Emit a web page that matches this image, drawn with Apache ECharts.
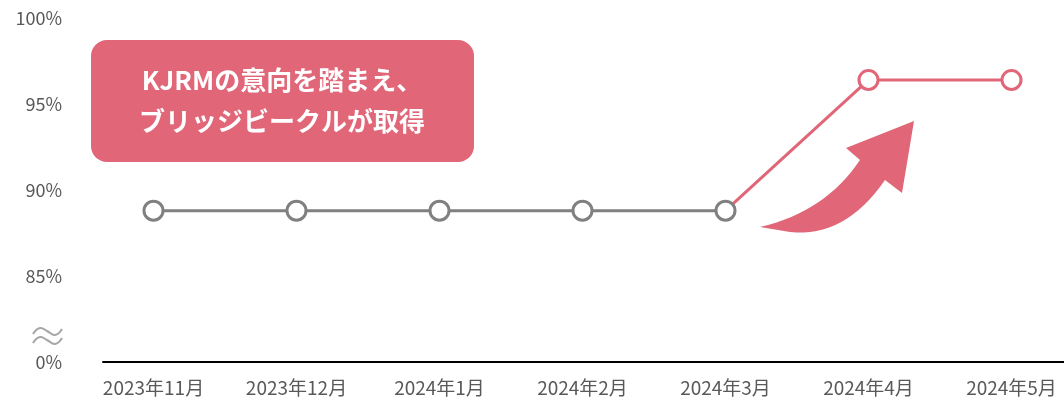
<!DOCTYPE html>
<html>
<head>
<meta charset="utf-8">
<script src="https://cdn.jsdelivr.net/npm/echarts@6/dist/echarts.min.js"></script>
<style>
  html, body { margin: 0; padding: 0; background: #fff; }
  #main { width: 1064px; height: 400px; }
</style>
</head>
<body>
<div id="main"></div>
<script>
// data
var months = ['2023年11月', '2023年12月', '2024年1月', '2024年2月', '2024年3月', '2024年4月', '2024年5月'];
var before = [88.8, 88.8, 88.8, 88.8, 88.8, null, null];
var after = [null, null, null, null, 88.8, 96.4, 96.4];
var yTicks = [80, 85, 90, 95, 100]; // 80 is shown as 0% (broken axis)

var FONT = "'Noto Sans CJK JP', 'Noto Sans', sans-serif";
var PINK = '#E06678';
var GREY = '#808080';

var chartDom = document.getElementById('main');
var myChart = echarts.init(chartDom);

var pinkData = after.map(function (v, i) {
    // hand-over point is drawn by the grey series
    if (i === 4) return { value: v, symbol: 'none' };
    return v;
});

// points along a quadratic curve, for the decorative arrow
function quad(p0, c, p1, n) {
    var pts = [];
    for (var i = 0; i <= n; i++) {
        var t = i / n, u = 1 - t;
        pts.push([u * u * p0[0] + 2 * u * t * c[0] + t * t * p1[0],
                  u * u * p0[1] + 2 * u * t * c[1] + t * t * p1[1]]);
    }
    return pts;
}
var arrowPts = quad([760, 227], [825, 212], [860, 160], 16)
    .concat([[846, 148], [914, 121], [902, 193]])
    .concat(quad([885, 180], [845, 238], [790, 232], 16));

// the little "≈" break mark on the y axis
function wave(dy) {
    return [[33, 334 + dy], [40, 328 + dy], [47, 331 + dy], [55, 335 + dy], [62, 329 + dy]];
}

var option = {
    animation: false,
    textStyle: { fontFamily: FONT },
    grid: [
        { left: 82, width: 1001, top: 18, bottom: 38, outerBoundsMode: 'none' },
        { left: 103, right: 0, top: 18, bottom: 38, outerBoundsMode: 'none' }
    ],
    xAxis: [{
        type: 'category',
        gridIndex: 0,
        data: months,
        axisLine: { show: false },
        axisTick: { show: false },
        axisLabel: { color: '#595959', fontSize: 19, margin: 16, fontFamily: FONT, interval: 0 }
    }, {
        type: 'value',
        gridIndex: 1,
        axisLine: { show: true, lineStyle: { color: '#000', width: 2 } },
        axisTick: { show: false },
        axisLabel: { show: false },
        splitLine: { show: false }
    }],
    yAxis: [{
        type: 'value',
        gridIndex: 0,
        min: yTicks[0],
        max: yTicks[yTicks.length - 1],
        interval: 5,
        axisLine: { show: false },
        axisTick: { show: false },
        splitLine: { show: false },
        axisLabel: {
            color: '#595959',
            fontSize: 18,
            margin: 20,
            fontFamily: FONT,
            formatter: function (v) { return v === yTicks[0] ? '0%' : v + '%'; }
        }
    }, {
        type: 'value',
        gridIndex: 1,
        show: false
    }],
    series: [{
        type: 'line',
        data: pinkData,
        xAxisIndex: 0,
        yAxisIndex: 0,
        symbol: 'circle',
        symbolSize: 19,
        lineStyle: { color: PINK, width: 3 },
        itemStyle: { color: '#fff', borderColor: PINK, borderWidth: 3 }
    }, {
        type: 'line',
        data: before,
        xAxisIndex: 0,
        yAxisIndex: 0,
        symbol: 'circle',
        symbolSize: 19,
        lineStyle: { color: GREY, width: 3 },
        itemStyle: { color: '#fff', borderColor: GREY, borderWidth: 3 }
    }],
    graphic: [
        // axis break mark
        {
            type: 'polyline',
            shape: { points: wave(0), smooth: 0.5 },
            style: { stroke: '#A6A6A6', lineWidth: 2, fill: null }
        },
        {
            type: 'polyline',
            shape: { points: wave(9), smooth: 0.5 },
            style: { stroke: '#A6A6A6', lineWidth: 2, fill: null }
        },
        // callout
        {
            type: 'rect',
            shape: { x: 91, y: 40, width: 383, height: 122, r: 16 },
            style: { fill: PINK }
        },
        {
            type: 'text',
            x: 282, y: 101,
            style: {
                text: 'KJRMの意向を踏まえ、\nブリッジビークルが取得',
                fill: '#fff',
                fontSize: 26,
                fontWeight: 'bold',
                fontFamily: FONT,
                lineHeight: 41,
                align: 'center',
                verticalAlign: 'middle'
            }
        },
        // curved arrow
        {
            type: 'polygon',
            shape: { points: arrowPts },
            style: { fill: PINK }
        }
    ]
};

option && myChart.setOption(option);
</script>
</body>
</html>
